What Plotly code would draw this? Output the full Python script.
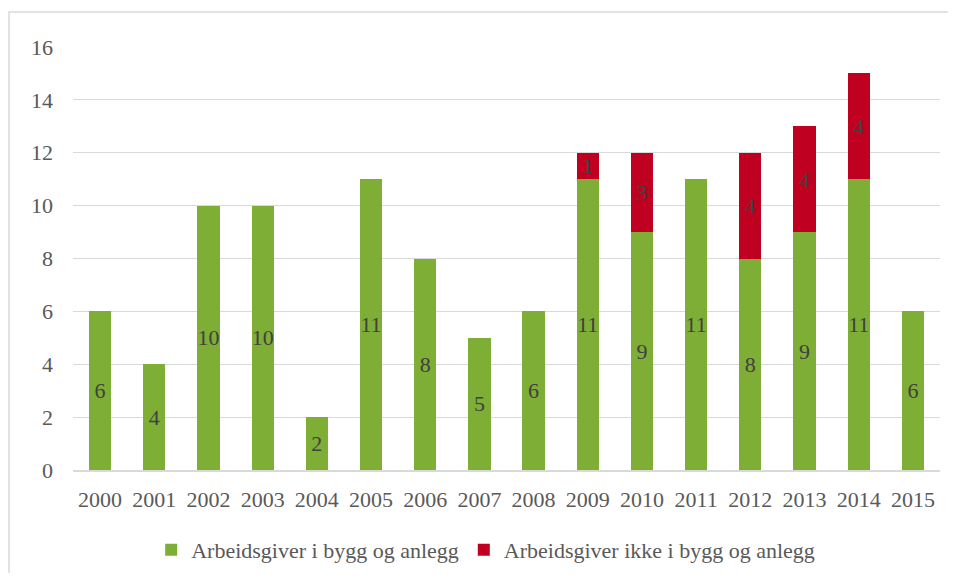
import plotly.graph_objects as go

# Data
years = [str(y) for y in range(2000, 2016)]
bygg = [6, 4, 10, 10, 2, 11, 8, 5, 6, 11, 9, 11, 8, 9, 11, 6]
ikke_bygg = [0, 0, 0, 0, 0, 0, 0, 0, 0, 1, 3, 0, 4, 4, 4, 0]
y_ticks = [0, 2, 4, 6, 8, 10, 12, 14, 16]

GREEN = "#7fae36"
RED = "#c00020"
FONT = "Liberation Serif, Times New Roman, serif"


def labels(values):
    return [str(v) if v else "" for v in values]


fig = go.Figure()

fig.add_trace(go.Bar(
    x=years, y=bygg,
    name="Arbeidsgiver i bygg og anlegg",
    marker=dict(color=GREEN, line=dict(width=0)),
    text=labels(bygg), textposition="inside", insidetextanchor="middle",
    textangle=0, constraintext="none",
    textfont=dict(family=FONT, size=22, color="#404040"),
))

fig.add_trace(go.Bar(
    x=years, y=[v if v else None for v in ikke_bygg],
    name="Arbeidsgiver ikke i bygg og anlegg",
    marker=dict(color=RED, line=dict(width=0)),
    text=labels(ikke_bygg), textposition="inside", insidetextanchor="middle",
    textangle=0, constraintext="none",
    textfont=dict(family=FONT, size=22, color="#404040"),
))

# Ramme rundt diagrammet
fig.add_shape(
    type="rect", xref="paper", yref="paper",
    x0=-0.0738, x1=1.03, y0=-0.3, y1=1.0827,
    line=dict(color="#d9d9d9", width=1.5), fillcolor="rgba(0,0,0,0)",
)

# body har 8px marg i html-siden, derfor 940x565
fig.update_layout(
    barmode="stack",
    bargap=0.59,
    width=940, height=565,
    margin=dict(l=65, r=8, t=39, b=103),
    paper_bgcolor="white",
    plot_bgcolor="white",
    font=dict(family=FONT, size=22, color="#595959"),
    legend=dict(
        orientation="h", traceorder="normal",
        x=0.476, xanchor="center",
        yref="container", y=0.041, yanchor="middle",
        font=dict(family=FONT, size=22, color="#595959"),
    ),
    xaxis=dict(
        showgrid=False, showline=True, linecolor="#d9d9d9", linewidth=1.5,
        ticks="", ticklabelstandoff=9,
        tickfont=dict(family=FONT, size=22, color="#595959"),
    ),
    yaxis=dict(
        range=[0, 16], tickvals=y_ticks,
        showgrid=True, gridcolor="#d9d9d9", gridwidth=1.3,
        zeroline=False, showline=False, ticks="", ticklabelstandoff=19,
        tickfont=dict(family=FONT, size=22, color="#595959"),
    ),
)

fig.write_html("out.html")
